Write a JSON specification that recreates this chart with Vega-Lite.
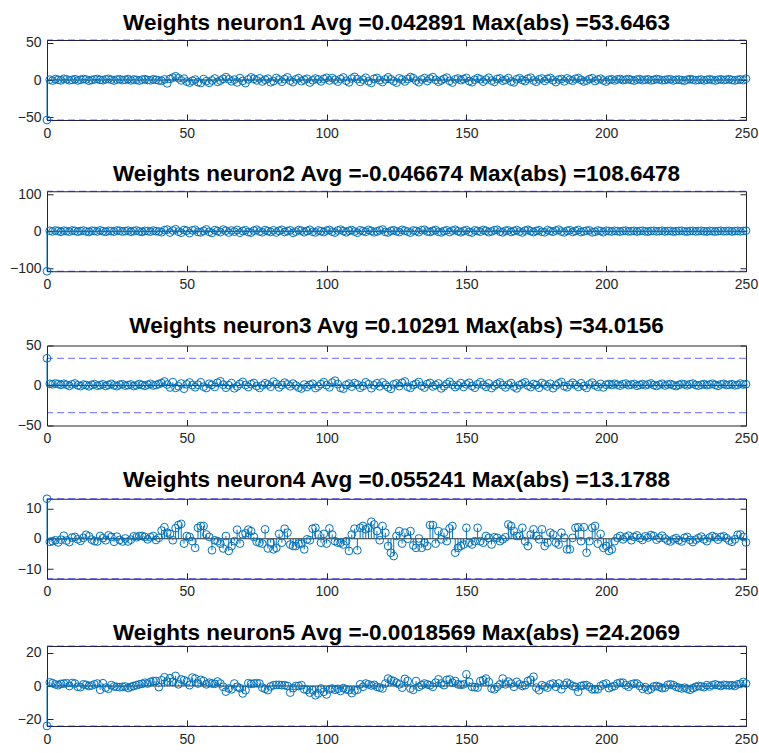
{
"$schema": "https://vega.github.io/schema/vega-lite/v6.json",
"background": "white",
"padding": {"left": 6, "top": 11, "right": 0, "bottom": 0},
"spacing": 21.25,
"config": {
 "view": {"stroke": "#262626", "strokeWidth": 1},
 "font": "Liberation Sans",
 "title": {"font": "Liberation Sans", "fontSize": 22.5, "fontWeight": "bold", "color": "#000000", "baseline": "alphabetic", "offset": 1.5, "anchor": "middle", "frame": "group"},
 "axis": {"labelFont": "Liberation Sans", "labelFontSize": 14, "labelColor": "#262626", "tickColor": "#262626", "tickSize": -6, "labelPadding": 12, "labelFlush": false, "domain": false, "grid": false, "title": null}
},
"datasets": {
"n1": [{"x":0,"y":-53.6463},{"x":1,"y":0.5},{"x":2,"y":-0.8},{"x":3,"y":1.2},{"x":4,"y":0.3},{"x":5,"y":-0.5},{"x":6,"y":1.6},{"x":7,"y":0.9},{"x":8,"y":-0.4},{"x":9,"y":0.2},{"x":10,"y":1.1},{"x":11,"y":-0.6},{"x":12,"y":0.4},{"x":13,"y":1.3},{"x":14,"y":0.7},{"x":15,"y":-0.9},{"x":16,"y":0.1},{"x":17,"y":0.8},{"x":18,"y":1.4},{"x":19,"y":0.2},{"x":20,"y":-0.3},{"x":21,"y":0.9},{"x":22,"y":1.5},{"x":23,"y":0.4},{"x":24,"y":-0.7},{"x":25,"y":0.6},{"x":26,"y":1.0},{"x":27,"y":-0.2},{"x":28,"y":0.3},{"x":29,"y":1.2},{"x":30,"y":-0.5},{"x":31,"y":0.7},{"x":32,"y":0.2},{"x":33,"y":-0.8},{"x":34,"y":0.5},{"x":35,"y":1.1},{"x":36,"y":0.0},{"x":37,"y":-0.4},{"x":38,"y":0.9},{"x":39,"y":0.3},{"x":40,"y":-0.6},{"x":41,"y":-1.0},{"x":42,"y":0.8},{"x":43,"y":-4.5},{"x":44,"y":1.5},{"x":45,"y":3.2},{"x":46,"y":5.0},{"x":47,"y":2.4},{"x":48,"y":-0.5},{"x":49,"y":1.8},{"x":50,"y":-2.2},{"x":51,"y":-3.5},{"x":52,"y":-1.0},{"x":53,"y":0.6},{"x":54,"y":-2.8},{"x":55,"y":-4.0},{"x":56,"y":1.2},{"x":57,"y":-1.5},{"x":58,"y":-3.8},{"x":59,"y":-0.6},{"x":60,"y":2.0},{"x":61,"y":-2.5},{"x":62,"y":-0.8},{"x":63,"y":1.5},{"x":64,"y":3.8},{"x":65,"y":1.0},{"x":66,"y":-1.8},{"x":67,"y":0.5},{"x":68,"y":-3.2},{"x":69,"y":2.6},{"x":70,"y":-1.2},{"x":71,"y":-4.2},{"x":72,"y":0.8},{"x":73,"y":3.5},{"x":74,"y":1.6},{"x":75,"y":-0.5},{"x":76,"y":2.2},{"x":77,"y":-2.0},{"x":78,"y":0.4},{"x":79,"y":1.8},{"x":80,"y":-3.0},{"x":81,"y":-1.5},{"x":82,"y":2.8},{"x":83,"y":0.6},{"x":84,"y":-2.4},{"x":85,"y":1.2},{"x":86,"y":3.6},{"x":87,"y":-0.8},{"x":88,"y":-2.8},{"x":89,"y":0.9},{"x":90,"y":2.4},{"x":91,"y":-1.6},{"x":92,"y":0.3},{"x":93,"y":1.7},{"x":94,"y":-3.4},{"x":95,"y":-0.4},{"x":96,"y":2.0},{"x":97,"y":0.8},{"x":98,"y":-1.9},{"x":99,"y":1.5},{"x":100,"y":3.0},{"x":101,"y":-0.6},{"x":102,"y":2.6},{"x":103,"y":0.4},{"x":104,"y":-2.2},{"x":105,"y":1.4},{"x":106,"y":3.4},{"x":107,"y":-1.0},{"x":108,"y":-3.2},{"x":109,"y":2.0},{"x":110,"y":4.2},{"x":111,"y":1.2},{"x":112,"y":-2.6},{"x":113,"y":0.5},{"x":114,"y":3.0},{"x":115,"y":-1.8},{"x":116,"y":-4.0},{"x":117,"y":1.6},{"x":118,"y":2.8},{"x":119,"y":-0.4},{"x":120,"y":-2.8},{"x":121,"y":0.8},{"x":122,"y":3.6},{"x":123,"y":1.0},{"x":124,"y":-1.6},{"x":125,"y":-3.6},{"x":126,"y":2.2},{"x":127,"y":0.6},{"x":128,"y":-2.0},{"x":129,"y":1.4},{"x":130,"y":4.0},{"x":131,"y":2.4},{"x":132,"y":-0.8},{"x":133,"y":-3.0},{"x":134,"y":0.7},{"x":135,"y":2.6},{"x":136,"y":-1.4},{"x":137,"y":1.8},{"x":138,"y":3.8},{"x":139,"y":0.2},{"x":140,"y":-2.4},{"x":141,"y":-0.6},{"x":142,"y":1.6},{"x":143,"y":3.2},{"x":144,"y":-1.2},{"x":145,"y":-3.4},{"x":146,"y":0.9},{"x":147,"y":2.0},{"x":148,"y":-0.2},{"x":149,"y":1.2},{"x":150,"y":2.8},{"x":151,"y":-1.5},{"x":152,"y":-3.0},{"x":153,"y":0.4},{"x":154,"y":2.5},{"x":155,"y":1.0},{"x":156,"y":-2.2},{"x":157,"y":0.6},{"x":158,"y":3.0},{"x":159,"y":-0.8},{"x":160,"y":-2.6},{"x":161,"y":1.4},{"x":162,"y":2.2},{"x":163,"y":-1.0},{"x":164,"y":0.3},{"x":165,"y":2.6},{"x":166,"y":-2.0},{"x":167,"y":-3.2},{"x":168,"y":1.0},{"x":169,"y":2.4},{"x":170,"y":0.0},{"x":171,"y":-1.4},{"x":172,"y":1.8},{"x":173,"y":3.2},{"x":174,"y":-0.6},{"x":175,"y":-2.4},{"x":176,"y":0.8},{"x":177,"y":2.0},{"x":178,"y":-1.2},{"x":179,"y":1.5},{"x":180,"y":2.8},{"x":181,"y":-0.4},{"x":182,"y":-2.8},{"x":183,"y":0.6},{"x":184,"y":1.4},{"x":185,"y":-1.8},{"x":186,"y":2.2},{"x":187,"y":0.4},{"x":188,"y":-1.0},{"x":189,"y":1.6},{"x":190,"y":2.6},{"x":191,"y":0.2},{"x":192,"y":-2.0},{"x":193,"y":-0.8},{"x":194,"y":1.2},{"x":195,"y":2.4},{"x":196,"y":-1.4},{"x":197,"y":0.6},{"x":198,"y":1.8},{"x":199,"y":-0.6},{"x":200,"y":-2.2},{"x":201,"y":0.4},{"x":202,"y":1.0},{"x":203,"y":-0.6},{"x":204,"y":0.8},{"x":205,"y":1.4},{"x":206,"y":-0.2},{"x":207,"y":0.5},{"x":208,"y":1.2},{"x":209,"y":0.1},{"x":210,"y":-0.8},{"x":211,"y":0.6},{"x":212,"y":1.1},{"x":213,"y":-0.3},{"x":214,"y":0.4},{"x":215,"y":0.9},{"x":216,"y":-0.5},{"x":217,"y":0.2},{"x":218,"y":1.3},{"x":219,"y":0.7},{"x":220,"y":-0.4},{"x":221,"y":0.0},{"x":222,"y":0.8},{"x":223,"y":1.0},{"x":224,"y":-0.6},{"x":225,"y":0.3},{"x":226,"y":0.6},{"x":227,"y":-0.2},{"x":228,"y":-0.9},{"x":229,"y":0.4},{"x":230,"y":1.2},{"x":231,"y":0.5},{"x":232,"y":-0.3},{"x":233,"y":0.1},{"x":234,"y":0.7},{"x":235,"y":-0.5},{"x":236,"y":0.3},{"x":237,"y":1.0},{"x":238,"y":0.2},{"x":239,"y":-0.7},{"x":240,"y":0.4},{"x":241,"y":0.9},{"x":242,"y":-0.1},{"x":243,"y":0.5},{"x":244,"y":1.1},{"x":245,"y":0.0},{"x":246,"y":-0.6},{"x":247,"y":0.3},{"x":248,"y":0.8},{"x":249,"y":-0.2},{"x":250,"y":1.8}],
"n2": [{"x":0,"y":-108.6478},{"x":1,"y":1.2},{"x":2,"y":-0.5},{"x":3,"y":2.0},{"x":4,"y":0.8},{"x":5,"y":-1.5},{"x":6,"y":1.6},{"x":7,"y":0.3},{"x":8,"y":-0.9},{"x":9,"y":2.2},{"x":10,"y":1.0},{"x":11,"y":-1.2},{"x":12,"y":0.6},{"x":13,"y":1.8},{"x":14,"y":-0.4},{"x":15,"y":-2.0},{"x":16,"y":1.4},{"x":17,"y":0.9},{"x":18,"y":-0.7},{"x":19,"y":2.4},{"x":20,"y":0.2},{"x":21,"y":-1.6},{"x":22,"y":1.1},{"x":23,"y":0.5},{"x":24,"y":-1.0},{"x":25,"y":2.0},{"x":26,"y":1.3},{"x":27,"y":-0.8},{"x":28,"y":0.4},{"x":29,"y":1.7},{"x":30,"y":-1.4},{"x":31,"y":0.6},{"x":32,"y":2.1},{"x":33,"y":-0.3},{"x":34,"y":-1.8},{"x":35,"y":1.0},{"x":36,"y":0.7},{"x":37,"y":-1.1},{"x":38,"y":1.9},{"x":39,"y":0.1},{"x":40,"y":-0.6},{"x":41,"y":-2.5},{"x":42,"y":3.0},{"x":43,"y":4.5},{"x":44,"y":-3.5},{"x":45,"y":2.0},{"x":46,"y":5.5},{"x":47,"y":-1.0},{"x":48,"y":-4.0},{"x":49,"y":3.5},{"x":50,"y":1.5},{"x":51,"y":-5.0},{"x":52,"y":2.5},{"x":53,"y":4.0},{"x":54,"y":-2.0},{"x":55,"y":-3.0},{"x":56,"y":1.0},{"x":57,"y":5.0},{"x":58,"y":-1.5},{"x":59,"y":-4.5},{"x":60,"y":3.0},{"x":61,"y":0.5},{"x":62,"y":-2.5},{"x":63,"y":4.5},{"x":64,"y":1.5},{"x":65,"y":-3.5},{"x":66,"y":2.0},{"x":67,"y":-1.0},{"x":68,"y":3.5},{"x":69,"y":-4.0},{"x":70,"y":0.8},{"x":71,"y":2.8},{"x":72,"y":-2.2},{"x":73,"y":-3.8},{"x":74,"y":1.8},{"x":75,"y":4.2},{"x":76,"y":-0.6},{"x":77,"y":-2.8},{"x":78,"y":3.2},{"x":79,"y":0.4},{"x":80,"y":-1.8},{"x":81,"y":2.6},{"x":82,"y":-3.4},{"x":83,"y":1.2},{"x":84,"y":4.0},{"x":85,"y":-2.0},{"x":86,"y":0.6},{"x":87,"y":2.4},{"x":88,"y":-4.2},{"x":89,"y":-1.0},{"x":90,"y":3.0},{"x":91,"y":1.6},{"x":92,"y":-2.6},{"x":93,"y":0.8},{"x":94,"y":3.8},{"x":95,"y":-1.4},{"x":96,"y":-3.2},{"x":97,"y":2.2},{"x":98,"y":0.2},{"x":99,"y":-2.4},{"x":100,"y":1.8},{"x":101,"y":3.4},{"x":102,"y":-1.2},{"x":103,"y":-3.6},{"x":104,"y":2.0},{"x":105,"y":4.4},{"x":106,"y":0.6},{"x":107,"y":-2.8},{"x":108,"y":1.4},{"x":109,"y":3.2},{"x":110,"y":-0.8},{"x":111,"y":-4.0},{"x":112,"y":2.6},{"x":113,"y":0.4},{"x":114,"y":-1.6},{"x":115,"y":3.6},{"x":116,"y":1.0},{"x":117,"y":-3.0},{"x":118,"y":-0.4},{"x":119,"y":2.4},{"x":120,"y":4.6},{"x":121,"y":-1.8},{"x":122,"y":-3.4},{"x":123,"y":1.2},{"x":124,"y":2.8},{"x":125,"y":-0.2},{"x":126,"y":-2.2},{"x":127,"y":3.8},{"x":128,"y":1.6},{"x":129,"y":-1.0},{"x":130,"y":-3.8},{"x":131,"y":2.2},{"x":132,"y":0.8},{"x":133,"y":-2.6},{"x":134,"y":3.0},{"x":135,"y":4.0},{"x":136,"y":-0.6},{"x":137,"y":-2.0},{"x":138,"y":1.4},{"x":139,"y":3.4},{"x":140,"y":-1.4},{"x":141,"y":-3.2},{"x":142,"y":0.6},{"x":143,"y":2.6},{"x":144,"y":-2.2},{"x":145,"y":1.8},{"x":146,"y":4.2},{"x":147,"y":0.0},{"x":148,"y":-2.8},{"x":149,"y":1.0},{"x":150,"y":3.0},{"x":151,"y":-1.6},{"x":152,"y":-3.6},{"x":153,"y":2.4},{"x":154,"y":0.8},{"x":155,"y":-1.2},{"x":156,"y":3.6},{"x":157,"y":1.4},{"x":158,"y":-2.6},{"x":159,"y":-0.4},{"x":160,"y":2.8},{"x":161,"y":4.0},{"x":162,"y":-1.0},{"x":163,"y":-3.0},{"x":164,"y":1.6},{"x":165,"y":2.2},{"x":166,"y":-2.0},{"x":167,"y":0.6},{"x":168,"y":3.2},{"x":169,"y":-0.8},{"x":170,"y":-3.4},{"x":171,"y":1.8},{"x":172,"y":3.8},{"x":173,"y":0.2},{"x":174,"y":-2.4},{"x":175,"y":1.0},{"x":176,"y":2.6},{"x":177,"y":-1.6},{"x":178,"y":-2.8},{"x":179,"y":3.0},{"x":180,"y":0.4},{"x":181,"y":-1.2},{"x":182,"y":2.0},{"x":183,"y":4.4},{"x":184,"y":-0.6},{"x":185,"y":-3.2},{"x":186,"y":1.2},{"x":187,"y":2.8},{"x":188,"y":-1.8},{"x":189,"y":0.8},{"x":190,"y":3.4},{"x":191,"y":-2.2},{"x":192,"y":-0.2},{"x":193,"y":1.6},{"x":194,"y":2.4},{"x":195,"y":-3.0},{"x":196,"y":-1.4},{"x":197,"y":2.0},{"x":198,"y":0.6},{"x":199,"y":-2.6},{"x":200,"y":1.4},{"x":201,"y":0.6},{"x":202,"y":-0.8},{"x":203,"y":1.2},{"x":204,"y":0.4},{"x":205,"y":-1.0},{"x":206,"y":0.9},{"x":207,"y":1.5},{"x":208,"y":-0.5},{"x":209,"y":0.2},{"x":210,"y":1.1},{"x":211,"y":-0.7},{"x":212,"y":0.6},{"x":213,"y":1.3},{"x":214,"y":-0.2},{"x":215,"y":-0.9},{"x":216,"y":0.8},{"x":217,"y":1.0},{"x":218,"y":-0.4},{"x":219,"y":0.3},{"x":220,"y":1.2},{"x":221,"y":-0.6},{"x":222,"y":0.5},{"x":223,"y":0.9},{"x":224,"y":-1.1},{"x":225,"y":0.1},{"x":226,"y":0.7},{"x":227,"y":1.4},{"x":228,"y":-0.3},{"x":229,"y":-0.8},{"x":230,"y":0.6},{"x":231,"y":1.0},{"x":232,"y":-0.5},{"x":233,"y":0.4},{"x":234,"y":1.1},{"x":235,"y":-0.2},{"x":236,"y":-0.7},{"x":237,"y":0.8},{"x":238,"y":0.3},{"x":239,"y":-0.9},{"x":240,"y":0.5},{"x":241,"y":1.2},{"x":242,"y":-0.1},{"x":243,"y":0.2},{"x":244,"y":0.9},{"x":245,"y":-0.6},{"x":246,"y":0.4},{"x":247,"y":1.0},{"x":248,"y":-0.3},{"x":249,"y":0.6},{"x":250,"y":1.6}],
"n3": [{"x":0,"y":34.0156},{"x":1,"y":2.0},{"x":2,"y":1.5},{"x":3,"y":2.5},{"x":4,"y":1.8},{"x":5,"y":0.8},{"x":6,"y":2.2},{"x":7,"y":1.0},{"x":8,"y":-0.5},{"x":9,"y":1.4},{"x":10,"y":2.6},{"x":11,"y":0.2},{"x":12,"y":-0.8},{"x":13,"y":1.2},{"x":14,"y":0.6},{"x":15,"y":-1.0},{"x":16,"y":0.9},{"x":17,"y":1.7},{"x":18,"y":-0.3},{"x":19,"y":0.4},{"x":20,"y":1.5},{"x":21,"y":-0.6},{"x":22,"y":0.8},{"x":23,"y":2.0},{"x":24,"y":0.1},{"x":25,"y":-0.9},{"x":26,"y":1.1},{"x":27,"y":1.6},{"x":28,"y":-0.2},{"x":29,"y":0.5},{"x":30,"y":1.3},{"x":31,"y":-0.7},{"x":32,"y":0.3},{"x":33,"y":1.8},{"x":34,"y":0.7},{"x":35,"y":-0.4},{"x":36,"y":1.0},{"x":37,"y":2.1},{"x":38,"y":0.0},{"x":39,"y":0.6},{"x":40,"y":1.9},{"x":41,"y":3.0},{"x":42,"y":5.0},{"x":43,"y":1.2},{"x":44,"y":-2.5},{"x":45,"y":4.2},{"x":46,"y":-3.0},{"x":47,"y":-1.0},{"x":48,"y":2.5},{"x":49,"y":-4.0},{"x":50,"y":1.5},{"x":51,"y":3.8},{"x":52,"y":0.5},{"x":53,"y":-2.2},{"x":54,"y":1.0},{"x":55,"y":4.0},{"x":56,"y":-1.5},{"x":57,"y":-3.2},{"x":58,"y":2.2},{"x":59,"y":0.8},{"x":60,"y":-1.8},{"x":61,"y":3.5},{"x":62,"y":5.2},{"x":63,"y":1.0},{"x":64,"y":-2.8},{"x":65,"y":0.4},{"x":66,"y":3.0},{"x":67,"y":-3.5},{"x":68,"y":-1.2},{"x":69,"y":2.0},{"x":70,"y":4.5},{"x":71,"y":0.6},{"x":72,"y":-2.0},{"x":73,"y":1.6},{"x":74,"y":3.2},{"x":75,"y":-0.8},{"x":76,"y":-3.0},{"x":77,"y":0.2},{"x":78,"y":2.8},{"x":79,"y":1.2},{"x":80,"y":-1.5},{"x":81,"y":4.8},{"x":82,"y":2.0},{"x":83,"y":-2.4},{"x":84,"y":0.6},{"x":85,"y":3.6},{"x":86,"y":1.4},{"x":87,"y":-1.0},{"x":88,"y":2.4},{"x":89,"y":0.0},{"x":90,"y":-2.6},{"x":91,"y":-3.8},{"x":92,"y":1.2},{"x":93,"y":-1.8},{"x":94,"y":0.8},{"x":95,"y":2.2},{"x":96,"y":-3.2},{"x":97,"y":-1.0},{"x":98,"y":1.8},{"x":99,"y":4.2},{"x":100,"y":0.4},{"x":101,"y":-2.2},{"x":102,"y":3.6},{"x":103,"y":6.0},{"x":104,"y":1.8},{"x":105,"y":-3.0},{"x":106,"y":-4.0},{"x":107,"y":0.6},{"x":108,"y":2.4},{"x":109,"y":-1.4},{"x":110,"y":3.0},{"x":111,"y":1.2},{"x":112,"y":-2.8},{"x":113,"y":-0.6},{"x":114,"y":4.0},{"x":115,"y":1.6},{"x":116,"y":-3.4},{"x":117,"y":0.2},{"x":118,"y":2.8},{"x":119,"y":-1.0},{"x":120,"y":3.8},{"x":121,"y":0.8},{"x":122,"y":-2.2},{"x":123,"y":-4.2},{"x":124,"y":1.4},{"x":125,"y":2.6},{"x":126,"y":-0.8},{"x":127,"y":3.4},{"x":128,"y":5.0},{"x":129,"y":-1.6},{"x":130,"y":-3.0},{"x":131,"y":0.6},{"x":132,"y":2.2},{"x":133,"y":4.4},{"x":134,"y":-0.4},{"x":135,"y":-2.6},{"x":136,"y":1.8},{"x":137,"y":3.2},{"x":138,"y":-1.2},{"x":139,"y":0.4},{"x":140,"y":2.6},{"x":141,"y":-3.6},{"x":142,"y":-1.0},{"x":143,"y":2.0},{"x":144,"y":4.6},{"x":145,"y":1.0},{"x":146,"y":-2.0},{"x":147,"y":0.2},{"x":148,"y":3.0},{"x":149,"y":-1.8},{"x":150,"y":1.4},{"x":151,"y":3.4},{"x":152,"y":-0.6},{"x":153,"y":-2.8},{"x":154,"y":1.6},{"x":155,"y":4.2},{"x":156,"y":0.8},{"x":157,"y":-1.6},{"x":158,"y":2.6},{"x":159,"y":-3.2},{"x":160,"y":-0.4},{"x":161,"y":2.0},{"x":162,"y":3.8},{"x":163,"y":0.4},{"x":164,"y":-2.4},{"x":165,"y":1.2},{"x":166,"y":3.0},{"x":167,"y":-1.4},{"x":168,"y":-3.6},{"x":169,"y":0.6},{"x":170,"y":2.4},{"x":171,"y":4.0},{"x":172,"y":-0.2},{"x":173,"y":-2.0},{"x":174,"y":1.8},{"x":175,"y":0.6},{"x":176,"y":-2.8},{"x":177,"y":3.2},{"x":178,"y":1.2},{"x":179,"y":-1.2},{"x":180,"y":2.2},{"x":181,"y":-3.4},{"x":182,"y":0.0},{"x":183,"y":2.6},{"x":184,"y":4.4},{"x":185,"y":-0.8},{"x":186,"y":-2.2},{"x":187,"y":1.0},{"x":188,"y":3.4},{"x":189,"y":0.8},{"x":190,"y":-1.8},{"x":191,"y":2.8},{"x":192,"y":-0.6},{"x":193,"y":-3.0},{"x":194,"y":1.4},{"x":195,"y":3.6},{"x":196,"y":0.2},{"x":197,"y":-1.6},{"x":198,"y":2.0},{"x":199,"y":-2.4},{"x":200,"y":1.0},{"x":201,"y":1.8},{"x":202,"y":0.6},{"x":203,"y":2.2},{"x":204,"y":1.0},{"x":205,"y":-0.2},{"x":206,"y":1.6},{"x":207,"y":2.4},{"x":208,"y":0.4},{"x":209,"y":1.2},{"x":210,"y":2.0},{"x":211,"y":-0.4},{"x":212,"y":0.8},{"x":213,"y":1.8},{"x":214,"y":0.2},{"x":215,"y":1.4},{"x":216,"y":2.6},{"x":217,"y":0.6},{"x":218,"y":-0.6},{"x":219,"y":1.0},{"x":220,"y":2.2},{"x":221,"y":0.0},{"x":222,"y":1.2},{"x":223,"y":1.8},{"x":224,"y":0.4},{"x":225,"y":-0.8},{"x":226,"y":0.8},{"x":227,"y":2.0},{"x":228,"y":1.4},{"x":229,"y":0.2},{"x":230,"y":1.6},{"x":231,"y":2.4},{"x":232,"y":0.6},{"x":233,"y":-0.2},{"x":234,"y":1.0},{"x":235,"y":1.8},{"x":236,"y":0.4},{"x":237,"y":1.2},{"x":238,"y":2.2},{"x":239,"y":0.8},{"x":240,"y":-0.4},{"x":241,"y":1.4},{"x":242,"y":2.0},{"x":243,"y":0.6},{"x":244,"y":1.0},{"x":245,"y":1.6},{"x":246,"y":0.2},{"x":247,"y":0.8},{"x":248,"y":2.4},{"x":249,"y":1.2},{"x":250,"y":1.6}],
"n4": [{"x":0,"y":13.1788},{"x":1,"y":-1.0},{"x":2,"y":-0.8},{"x":3,"y":-0.5},{"x":4,"y":-1.2},{"x":5,"y":-0.3},{"x":6,"y":1.0},{"x":7,"y":-0.6},{"x":8,"y":-1.1},{"x":9,"y":0.4},{"x":10,"y":0.6},{"x":11,"y":-0.2},{"x":12,"y":-0.7},{"x":13,"y":0.3},{"x":14,"y":1.3},{"x":15,"y":0.8},{"x":16,"y":-0.3},{"x":17,"y":-0.8},{"x":18,"y":-0.9},{"x":19,"y":0.9},{"x":20,"y":0.2},{"x":21,"y":-0.5},{"x":22,"y":1.1},{"x":23,"y":0.6},{"x":24,"y":-1.0},{"x":25,"y":0.7},{"x":26,"y":-0.4},{"x":27,"y":-0.9},{"x":28,"y":0.1},{"x":29,"y":-0.9},{"x":30,"y":-0.3},{"x":31,"y":0.8},{"x":32,"y":0.5},{"x":33,"y":0.9},{"x":34,"y":0.9},{"x":35,"y":0.6},{"x":36,"y":-0.2},{"x":37,"y":0.5},{"x":38,"y":0.9},{"x":39,"y":-0.4},{"x":40,"y":0.3},{"x":41,"y":2.7},{"x":42,"y":3.8},{"x":43,"y":2.0},{"x":44,"y":1.6},{"x":45,"y":-0.5},{"x":46,"y":3.5},{"x":47,"y":4.5},{"x":48,"y":4.9},{"x":49,"y":-1.6},{"x":50,"y":0.9},{"x":51,"y":0.6},{"x":52,"y":-0.8},{"x":53,"y":-3.0},{"x":54,"y":3.6},{"x":55,"y":4.2},{"x":56,"y":4.2},{"x":57,"y":1.4},{"x":58,"y":0.6},{"x":59,"y":-3.8},{"x":60,"y":-0.5},{"x":61,"y":-0.8},{"x":62,"y":-1.6},{"x":63,"y":-3.2},{"x":64,"y":0.9},{"x":65,"y":-4.0},{"x":66,"y":-2.4},{"x":67,"y":-0.8},{"x":68,"y":3.0},{"x":69,"y":-1.6},{"x":70,"y":1.4},{"x":71,"y":1.8},{"x":72,"y":3.0},{"x":73,"y":2.5},{"x":74,"y":0.6},{"x":75,"y":-1.0},{"x":76,"y":-1.3},{"x":77,"y":-1.6},{"x":78,"y":3.1},{"x":79,"y":-3.2},{"x":80,"y":-1.3},{"x":81,"y":-3.5},{"x":82,"y":-3.0},{"x":83,"y":1.6},{"x":84,"y":-1.3},{"x":85,"y":3.3},{"x":86,"y":2.0},{"x":87,"y":-1.9},{"x":88,"y":-2.4},{"x":89,"y":-2.4},{"x":90,"y":-1.6},{"x":91,"y":-1.6},{"x":92,"y":-3.5},{"x":93,"y":-0.2},{"x":94,"y":-0.5},{"x":95,"y":3.3},{"x":96,"y":3.6},{"x":97,"y":1.4},{"x":98,"y":-1.3},{"x":99,"y":1.6},{"x":100,"y":-1.6},{"x":101,"y":3.4},{"x":102,"y":1.4},{"x":103,"y":-0.8},{"x":104,"y":-1.3},{"x":105,"y":-1.3},{"x":106,"y":-1.9},{"x":107,"y":-0.8},{"x":108,"y":-4.0},{"x":109,"y":1.4},{"x":110,"y":3.3},{"x":111,"y":-3.8},{"x":112,"y":3.6},{"x":113,"y":4.2},{"x":114,"y":3.1},{"x":115,"y":3.6},{"x":116,"y":5.6},{"x":117,"y":4.7},{"x":118,"y":2.5},{"x":119,"y":-0.5},{"x":120,"y":4.2},{"x":121,"y":2.0},{"x":122,"y":-2.4},{"x":123,"y":-4.6},{"x":124,"y":-5.7},{"x":125,"y":0.9},{"x":126,"y":2.5},{"x":127,"y":-1.6},{"x":128,"y":2.0},{"x":129,"y":0.0},{"x":130,"y":2.5},{"x":131,"y":-2.2},{"x":132,"y":-3.0},{"x":133,"y":0.1},{"x":134,"y":-3.0},{"x":135,"y":-1.3},{"x":136,"y":-2.4},{"x":137,"y":4.5},{"x":138,"y":4.5},{"x":139,"y":-1.6},{"x":140,"y":2.5},{"x":141,"y":-0.2},{"x":142,"y":2.0},{"x":143,"y":-0.8},{"x":144,"y":3.4},{"x":145,"y":4.2},{"x":146,"y":-4.6},{"x":147,"y":-3.0},{"x":148,"y":-2.4},{"x":149,"y":-1.9},{"x":150,"y":3.6},{"x":151,"y":-1.3},{"x":152,"y":-1.9},{"x":153,"y":-0.8},{"x":154,"y":3.6},{"x":155,"y":-0.8},{"x":156,"y":-1.3},{"x":157,"y":0.9},{"x":158,"y":0.3},{"x":159,"y":-1.9},{"x":160,"y":0.5},{"x":161,"y":0.3},{"x":162,"y":-0.8},{"x":163,"y":-0.2},{"x":164,"y":0.5},{"x":165,"y":4.7},{"x":166,"y":4.2},{"x":167,"y":2.5},{"x":168,"y":0.9},{"x":169,"y":0.9},{"x":170,"y":3.6},{"x":171,"y":-0.8},{"x":172,"y":-2.4},{"x":173,"y":1.4},{"x":174,"y":3.1},{"x":175,"y":0.9},{"x":176,"y":-0.2},{"x":177,"y":3.1},{"x":178,"y":-2.4},{"x":179,"y":-1.3},{"x":180,"y":2.0},{"x":181,"y":1.4},{"x":182,"y":-1.3},{"x":183,"y":-1.9},{"x":184,"y":2.0},{"x":185,"y":0.3},{"x":186,"y":-3.5},{"x":187,"y":-3.5},{"x":188,"y":0.3},{"x":189,"y":3.6},{"x":190,"y":3.8},{"x":191,"y":-0.8},{"x":192,"y":3.8},{"x":193,"y":-4.6},{"x":194,"y":-0.8},{"x":195,"y":3.6},{"x":196,"y":4.2},{"x":197,"y":-1.6},{"x":198,"y":1.6},{"x":199,"y":-3.0},{"x":200,"y":-2.4},{"x":201,"y":-4.0},{"x":202,"y":-3.5},{"x":203,"y":-0.8},{"x":204,"y":0.3},{"x":205,"y":0.9},{"x":206,"y":-0.2},{"x":207,"y":0.5},{"x":208,"y":1.0},{"x":209,"y":-0.5},{"x":210,"y":0.6},{"x":211,"y":1.1},{"x":212,"y":0.2},{"x":213,"y":-0.4},{"x":214,"y":0.8},{"x":215,"y":0.4},{"x":216,"y":1.2},{"x":217,"y":0.9},{"x":218,"y":-0.3},{"x":219,"y":0.3},{"x":220,"y":1.0},{"x":221,"y":0.1},{"x":222,"y":-0.6},{"x":223,"y":-0.9},{"x":224,"y":-0.2},{"x":225,"y":0.2},{"x":226,"y":-0.5},{"x":227,"y":-0.9},{"x":228,"y":0.3},{"x":229,"y":0.6},{"x":230,"y":-0.4},{"x":231,"y":-1.1},{"x":232,"y":-0.3},{"x":233,"y":0.2},{"x":234,"y":0.7},{"x":235,"y":-0.2},{"x":236,"y":-0.8},{"x":237,"y":0.4},{"x":238,"y":0.9},{"x":239,"y":0.5},{"x":240,"y":-0.3},{"x":241,"y":0.6},{"x":242,"y":0.8},{"x":243,"y":0.2},{"x":244,"y":-0.6},{"x":245,"y":-1.0},{"x":246,"y":-0.2},{"x":247,"y":1.3},{"x":248,"y":1.4},{"x":249,"y":0.6},{"x":250,"y":-1.2}],
"n5": [{"x":0,"y":-24.2069},{"x":1,"y":2.2},{"x":2,"y":1.7},{"x":3,"y":1.0},{"x":4,"y":0.5},{"x":5,"y":1.3},{"x":6,"y":1.5},{"x":7,"y":1.7},{"x":8,"y":0.0},{"x":9,"y":1.8},{"x":10,"y":1.5},{"x":11,"y":-0.5},{"x":12,"y":-0.7},{"x":13,"y":1.0},{"x":14,"y":0.7},{"x":15,"y":0.0},{"x":16,"y":0.3},{"x":17,"y":1.0},{"x":18,"y":1.5},{"x":19,"y":-2.3},{"x":20,"y":1.7},{"x":21,"y":-1.0},{"x":22,"y":-1.7},{"x":23,"y":0.5},{"x":24,"y":-0.3},{"x":25,"y":-0.5},{"x":26,"y":-0.7},{"x":27,"y":-0.5},{"x":28,"y":-0.3},{"x":29,"y":-1.2},{"x":30,"y":-0.5},{"x":31,"y":0.0},{"x":32,"y":0.5},{"x":33,"y":1.0},{"x":34,"y":1.3},{"x":35,"y":2.0},{"x":36,"y":1.5},{"x":37,"y":2.5},{"x":38,"y":3.0},{"x":39,"y":3.0},{"x":40,"y":-0.7},{"x":41,"y":3.5},{"x":42,"y":5.3},{"x":43,"y":2.7},{"x":44,"y":4.7},{"x":45,"y":2.5},{"x":46,"y":6.1},{"x":47,"y":1.0},{"x":48,"y":4.0},{"x":49,"y":3.5},{"x":50,"y":2.7},{"x":51,"y":0.5},{"x":52,"y":5.1},{"x":53,"y":4.5},{"x":54,"y":1.5},{"x":55,"y":3.7},{"x":56,"y":3.0},{"x":57,"y":1.0},{"x":58,"y":2.0},{"x":59,"y":1.5},{"x":60,"y":1.3},{"x":61,"y":2.7},{"x":62,"y":1.5},{"x":63,"y":-0.5},{"x":64,"y":-3.4},{"x":65,"y":-1.5},{"x":66,"y":-2.0},{"x":67,"y":1.5},{"x":68,"y":-0.5},{"x":69,"y":-1.3},{"x":70,"y":-4.5},{"x":71,"y":-2.5},{"x":72,"y":1.7},{"x":73,"y":1.3},{"x":74,"y":1.5},{"x":75,"y":1.7},{"x":76,"y":1.5},{"x":77,"y":-1.0},{"x":78,"y":-1.7},{"x":79,"y":-2.5},{"x":80,"y":-0.3},{"x":81,"y":0.5},{"x":82,"y":0.7},{"x":83,"y":0.7},{"x":84,"y":0.5},{"x":85,"y":0.5},{"x":86,"y":0.0},{"x":87,"y":-4.0},{"x":88,"y":-1.3},{"x":89,"y":0.0},{"x":90,"y":0.0},{"x":91,"y":0.5},{"x":92,"y":-2.0},{"x":93,"y":-2.3},{"x":94,"y":-4.0},{"x":95,"y":-2.5},{"x":96,"y":-5.6},{"x":97,"y":-4.5},{"x":98,"y":-1.5},{"x":99,"y":-3.5},{"x":100,"y":-5.1},{"x":101,"y":-2.0},{"x":102,"y":-1.5},{"x":103,"y":-2.3},{"x":104,"y":-1.7},{"x":105,"y":-3.0},{"x":106,"y":-1.3},{"x":107,"y":-2.0},{"x":108,"y":-2.5},{"x":109,"y":-4.3},{"x":110,"y":-2.7},{"x":111,"y":-2.3},{"x":112,"y":1.0},{"x":113,"y":-0.5},{"x":114,"y":1.5},{"x":115,"y":1.0},{"x":116,"y":0.3},{"x":117,"y":0.7},{"x":118,"y":-0.5},{"x":119,"y":-1.0},{"x":120,"y":-1.5},{"x":121,"y":1.5},{"x":122,"y":4.5},{"x":123,"y":3.5},{"x":124,"y":3.0},{"x":125,"y":2.0},{"x":126,"y":1.0},{"x":127,"y":-1.0},{"x":128,"y":4.3},{"x":129,"y":3.0},{"x":130,"y":-1.5},{"x":131,"y":-2.3},{"x":132,"y":3.0},{"x":133,"y":-0.5},{"x":134,"y":0.5},{"x":135,"y":1.5},{"x":136,"y":1.0},{"x":137,"y":0.5},{"x":138,"y":-0.5},{"x":139,"y":2.0},{"x":140,"y":4.0},{"x":141,"y":1.5},{"x":142,"y":0.5},{"x":143,"y":3.7},{"x":144,"y":4.0},{"x":145,"y":2.0},{"x":146,"y":3.0},{"x":147,"y":1.0},{"x":148,"y":0.7},{"x":149,"y":1.0},{"x":150,"y":7.1},{"x":151,"y":2.5},{"x":152,"y":-0.5},{"x":153,"y":-0.7},{"x":154,"y":-1.0},{"x":155,"y":3.0},{"x":156,"y":3.5},{"x":157,"y":4.5},{"x":158,"y":2.5},{"x":159,"y":-1.5},{"x":160,"y":-2.0},{"x":161,"y":-0.5},{"x":162,"y":1.0},{"x":163,"y":4.5},{"x":164,"y":1.0},{"x":165,"y":2.7},{"x":166,"y":1.5},{"x":167,"y":-0.5},{"x":168,"y":2.5},{"x":169,"y":1.0},{"x":170,"y":0.0},{"x":171,"y":0.5},{"x":172,"y":3.0},{"x":173,"y":3.7},{"x":174,"y":5.6},{"x":175,"y":-1.0},{"x":176,"y":-2.5},{"x":177,"y":0.5},{"x":178,"y":-0.3},{"x":179,"y":-1.0},{"x":180,"y":1.0},{"x":181,"y":1.5},{"x":182,"y":-0.5},{"x":183,"y":1.5},{"x":184,"y":-2.0},{"x":185,"y":0.5},{"x":186,"y":2.0},{"x":187,"y":1.0},{"x":188,"y":0.0},{"x":189,"y":-0.5},{"x":190,"y":-3.5},{"x":191,"y":0.0},{"x":192,"y":0.5},{"x":193,"y":0.5},{"x":194,"y":-0.5},{"x":195,"y":-2.0},{"x":196,"y":-2.0},{"x":197,"y":-2.0},{"x":198,"y":0.0},{"x":199,"y":1.0},{"x":200,"y":1.5},{"x":201,"y":-1.3},{"x":202,"y":-0.5},{"x":203,"y":0.0},{"x":204,"y":1.5},{"x":205,"y":2.0},{"x":206,"y":2.0},{"x":207,"y":0.5},{"x":208,"y":-0.5},{"x":209,"y":1.0},{"x":210,"y":1.5},{"x":211,"y":1.5},{"x":212,"y":0.0},{"x":213,"y":-1.7},{"x":214,"y":-0.7},{"x":215,"y":-2.5},{"x":216,"y":-1.7},{"x":217,"y":-0.3},{"x":218,"y":0.0},{"x":219,"y":-0.5},{"x":220,"y":-1.3},{"x":221,"y":-1.0},{"x":222,"y":0.7},{"x":223,"y":1.0},{"x":224,"y":0.5},{"x":225,"y":-0.5},{"x":226,"y":-1.0},{"x":227,"y":-1.5},{"x":228,"y":-1.0},{"x":229,"y":-1.7},{"x":230,"y":-2.3},{"x":231,"y":-1.3},{"x":232,"y":-0.5},{"x":233,"y":0.0},{"x":234,"y":-0.3},{"x":235,"y":-0.7},{"x":236,"y":0.5},{"x":237,"y":-0.3},{"x":238,"y":0.5},{"x":239,"y":1.0},{"x":240,"y":0.5},{"x":241,"y":0.0},{"x":242,"y":0.7},{"x":243,"y":0.5},{"x":244,"y":0.3},{"x":245,"y":0.5},{"x":246,"y":0.0},{"x":247,"y":1.0},{"x":248,"y":1.3},{"x":249,"y":2.5},{"x":250,"y":1.5}]
},
"vconcat": [
{"width": 699, "height": 80, "title": {"text": "Weights neuron1 Avg =0.042891 Max(abs) =53.6463"},
 "resolve": {"axis": {"x": "independent", "y": "independent"}},
 "layer": [
  {"data": {"name": "n1"}, "mark": {"type": "rule", "color": "#0072BD", "strokeWidth": 1},
   "encoding": {"x": {"field": "x", "type": "quantitative", "scale": {"domain": [0, 250], "nice": false, "zero": false}, "axis": {"orient": "bottom", "values": [0, 50, 100, 150, 200, 250]}},
    "y": {"field": "y", "type": "quantitative", "scale": {"domain": [-53.6463, 53.6463], "nice": false, "zero": false}, "axis": {"orient": "left", "values": [-50, 0, 50], "minExtent": 40, "maxExtent": 40}},
    "y2": {"datum": 0}}},
  {"data": {"values": [{}]}, "mark": {"type": "rule", "color": "#333333", "strokeWidth": 1}, "encoding": {"y": {"datum": 0, "type": "quantitative", "axis": null}}},
  {"data": {"name": "n1"}, "mark": {"type": "point", "filled": false, "color": "#0072BD", "size": 60, "strokeWidth": 1, "opacity": 1},
   "encoding": {"x": {"field": "x", "type": "quantitative", "axis": {"orient": "top", "values": [0, 50, 100, 150, 200, 250], "labels": false, "minExtent": 0, "maxExtent": 0}},
    "y": {"field": "y", "type": "quantitative", "axis": {"orient": "right", "values": [-50, 0, 50], "labels": false, "minExtent": 0, "maxExtent": 0}}}},
  {"data": {"values": [{"v": 53.6463}, {"v": -53.6463}]}, "mark": {"type": "rule", "color": "#0000ff", "opacity": 0.6, "strokeWidth": 1, "strokeDash": [7, 4]}, "encoding": {"y": {"field": "v", "type": "quantitative", "axis": null}}}
 ]},
{"width": 699, "height": 80, "title": {"text": "Weights neuron2 Avg =-0.046674 Max(abs) =108.6478"},
 "resolve": {"axis": {"x": "independent", "y": "independent"}},
 "layer": [
  {"data": {"name": "n2"}, "mark": {"type": "rule", "color": "#0072BD", "strokeWidth": 1},
   "encoding": {"x": {"field": "x", "type": "quantitative", "scale": {"domain": [0, 250], "nice": false, "zero": false}, "axis": {"orient": "bottom", "values": [0, 50, 100, 150, 200, 250]}},
    "y": {"field": "y", "type": "quantitative", "scale": {"domain": [-108.6478, 108.6478], "nice": false, "zero": false}, "axis": {"orient": "left", "values": [-100, 0, 100], "minExtent": 40, "maxExtent": 40}},
    "y2": {"datum": 0}}},
  {"data": {"values": [{}]}, "mark": {"type": "rule", "color": "#333333", "strokeWidth": 1}, "encoding": {"y": {"datum": 0, "type": "quantitative", "axis": null}}},
  {"data": {"name": "n2"}, "mark": {"type": "point", "filled": false, "color": "#0072BD", "size": 60, "strokeWidth": 1, "opacity": 1},
   "encoding": {"x": {"field": "x", "type": "quantitative", "axis": {"orient": "top", "values": [0, 50, 100, 150, 200, 250], "labels": false, "minExtent": 0, "maxExtent": 0}},
    "y": {"field": "y", "type": "quantitative", "axis": {"orient": "right", "values": [-100, 0, 100], "labels": false, "minExtent": 0, "maxExtent": 0}}}},
  {"data": {"values": [{"v": 108.6478}, {"v": -108.6478}]}, "mark": {"type": "rule", "color": "#0000ff", "opacity": 0.6, "strokeWidth": 1, "strokeDash": [7, 4]}, "encoding": {"y": {"field": "v", "type": "quantitative", "axis": null}}}
 ]},
{"width": 699, "height": 80, "title": {"text": "Weights neuron3 Avg =0.10291 Max(abs) =34.0156"},
 "resolve": {"axis": {"x": "independent", "y": "independent"}},
 "layer": [
  {"data": {"name": "n3"}, "mark": {"type": "rule", "color": "#0072BD", "strokeWidth": 1},
   "encoding": {"x": {"field": "x", "type": "quantitative", "scale": {"domain": [0, 250], "nice": false, "zero": false}, "axis": {"orient": "bottom", "values": [0, 50, 100, 150, 200, 250]}},
    "y": {"field": "y", "type": "quantitative", "scale": {"domain": [-50, 50], "nice": false, "zero": false}, "axis": {"orient": "left", "values": [-50, 0, 50], "minExtent": 40, "maxExtent": 40}},
    "y2": {"datum": 0}}},
  {"data": {"values": [{}]}, "mark": {"type": "rule", "color": "#333333", "strokeWidth": 1}, "encoding": {"y": {"datum": 0, "type": "quantitative", "axis": null}}},
  {"data": {"name": "n3"}, "mark": {"type": "point", "filled": false, "color": "#0072BD", "size": 60, "strokeWidth": 1, "opacity": 1},
   "encoding": {"x": {"field": "x", "type": "quantitative", "axis": {"orient": "top", "values": [0, 50, 100, 150, 200, 250], "labels": false, "minExtent": 0, "maxExtent": 0}},
    "y": {"field": "y", "type": "quantitative", "axis": {"orient": "right", "values": [-50, 0, 50], "labels": false, "minExtent": 0, "maxExtent": 0}}}},
  {"data": {"values": [{"v": 34.0156}, {"v": -34.0156}]}, "mark": {"type": "rule", "color": "#0000ff", "opacity": 0.6, "strokeWidth": 1, "strokeDash": [7, 4]}, "encoding": {"y": {"field": "v", "type": "quantitative", "axis": null}}}
 ]},
{"width": 699, "height": 80, "title": {"text": "Weights neuron4 Avg =0.055241 Max(abs) =13.1788"},
 "resolve": {"axis": {"x": "independent", "y": "independent"}},
 "layer": [
  {"data": {"name": "n4"}, "mark": {"type": "rule", "color": "#0072BD", "strokeWidth": 1},
   "encoding": {"x": {"field": "x", "type": "quantitative", "scale": {"domain": [0, 250], "nice": false, "zero": false}, "axis": {"orient": "bottom", "values": [0, 50, 100, 150, 200, 250]}},
    "y": {"field": "y", "type": "quantitative", "scale": {"domain": [-13.1788, 13.1788], "nice": false, "zero": false}, "axis": {"orient": "left", "values": [-10, 0, 10], "minExtent": 40, "maxExtent": 40}},
    "y2": {"datum": 0}}},
  {"data": {"values": [{}]}, "mark": {"type": "rule", "color": "#333333", "strokeWidth": 1}, "encoding": {"y": {"datum": 0, "type": "quantitative", "axis": null}}},
  {"data": {"name": "n4"}, "mark": {"type": "point", "filled": false, "color": "#0072BD", "size": 60, "strokeWidth": 1, "opacity": 1},
   "encoding": {"x": {"field": "x", "type": "quantitative", "axis": {"orient": "top", "values": [0, 50, 100, 150, 200, 250], "labels": false, "minExtent": 0, "maxExtent": 0}},
    "y": {"field": "y", "type": "quantitative", "axis": {"orient": "right", "values": [-10, 0, 10], "labels": false, "minExtent": 0, "maxExtent": 0}}}},
  {"data": {"values": [{"v": 13.1788}, {"v": -13.1788}]}, "mark": {"type": "rule", "color": "#0000ff", "opacity": 0.6, "strokeWidth": 1, "strokeDash": [7, 4]}, "encoding": {"y": {"field": "v", "type": "quantitative", "axis": null}}}
 ]},
{"width": 699, "height": 80, "title": {"text": "Weights neuron5 Avg =-0.0018569 Max(abs) =24.2069"},
 "resolve": {"axis": {"x": "independent", "y": "independent"}},
 "layer": [
  {"data": {"name": "n5"}, "mark": {"type": "rule", "color": "#0072BD", "strokeWidth": 1},
   "encoding": {"x": {"field": "x", "type": "quantitative", "scale": {"domain": [0, 250], "nice": false, "zero": false}, "axis": {"orient": "bottom", "values": [0, 50, 100, 150, 200, 250]}},
    "y": {"field": "y", "type": "quantitative", "scale": {"domain": [-24.2069, 24.2069], "nice": false, "zero": false}, "axis": {"orient": "left", "values": [-20, 0, 20], "minExtent": 40, "maxExtent": 40}},
    "y2": {"datum": 0}}},
  {"data": {"values": [{}]}, "mark": {"type": "rule", "color": "#333333", "strokeWidth": 1}, "encoding": {"y": {"datum": 0, "type": "quantitative", "axis": null}}},
  {"data": {"name": "n5"}, "mark": {"type": "point", "filled": false, "color": "#0072BD", "size": 60, "strokeWidth": 1, "opacity": 1},
   "encoding": {"x": {"field": "x", "type": "quantitative", "axis": {"orient": "top", "values": [0, 50, 100, 150, 200, 250], "labels": false, "minExtent": 0, "maxExtent": 0}},
    "y": {"field": "y", "type": "quantitative", "axis": {"orient": "right", "values": [-20, 0, 20], "labels": false, "minExtent": 0, "maxExtent": 0}}}},
  {"data": {"values": [{"v": 24.2069}, {"v": -24.2069}]}, "mark": {"type": "rule", "color": "#0000ff", "opacity": 0.6, "strokeWidth": 1, "strokeDash": [7, 4]}, "encoding": {"y": {"field": "v", "type": "quantitative", "axis": null}}}
 ]}
]
}
